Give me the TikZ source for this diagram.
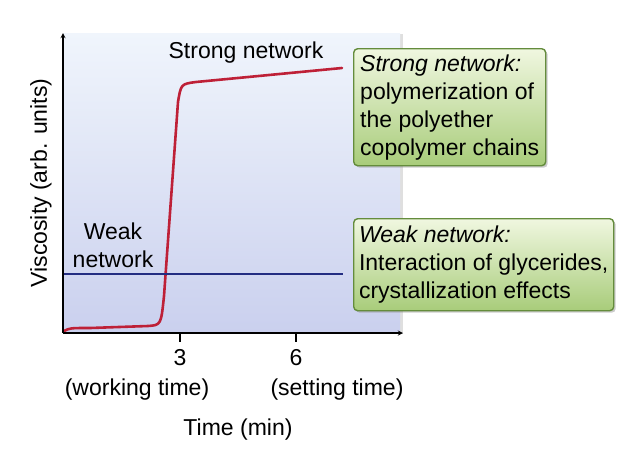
\documentclass[tikz,border=0pt]{standalone}
\usepackage{fontspec}
\setmainfont{Liberation Sans}
\usetikzlibrary{shadows, arrows}
\definecolor{plottop}{RGB}{240,245,252}
\definecolor{plotbottom}{RGB}{202,208,238}
\definecolor{curvered}{RGB}{190,32,55}
\definecolor{lineblue}{RGB}{35,45,130}
\definecolor{boxtop}{RGB}{240,247,224}
\definecolor{boxbottom}{RGB}{168,204,122}
\definecolor{boxedge}{RGB}{100,140,60}
\tikzstyle{plotbg} =
[
	draw=none
	, top color=plottop
	, bottom color=plotbottom
	, drop shadow={shadow xshift=3pt, shadow yshift=-1pt, opacity=0.25}
]
\tikzstyle{notebox} =
[
	rectangle
	, rounded corners=4pt
	, draw=boxedge
	, line width=1.4pt
	, top color=boxtop
	, bottom color=boxbottom
	, drop shadow={shadow xshift=2pt, shadow yshift=-2pt, opacity=0.4}
	, align=left
	, inner sep=5pt
	, anchor=north west
]
\tikzstyle{label1} = [inner sep=0pt]
\tikzstyle{axis} = [line width=1.3pt,->,>=stealth]
\tikzstyle{curve} = [line width=2.6pt, curvered, line cap=round, line join=round]

\begin{document}
\begin{tikzpicture}[x=1pt, y=-1pt, font=\fontsize{23}{28}\selectfont]
\useasboundingbox (0,0) rectangle (642,456);

\fill[plotbg] (63,33) rectangle (400,333);

\coordinate (origin) at (63,333);
\coordinate (ytop) at (63,33);
\coordinate (xend) at (403,333);
\coordinate (weakstart) at (63,274);
\coordinate (weakend) at (343,274);

% curves
\draw[curve] (64,331) .. controls (70,328) .. (90,328) -- (148,326)
  .. controls (161,325) .. (164,296) -- (178,102)
  .. controls (181,84) .. (196,82) -- (342,68);
\draw[lineblue, line width=2.1pt](weakstart)--(weakend);

\draw[axis](origin)--(ytop);
\draw[axis](origin)--(xend);
\draw[line width=1.2pt] (180,333) -- (180,342);
\draw[line width=1.2pt] (296,333) -- (296,342);

\node(tick3)[label1] at (180,358){3};
\node(tick6)[label1] at (296,358){6};
\node(working)[label1] at (137,390){(working time)};
\node(setting)[label1] at (337,390){(setting time)};
\node(xlabel)[label1] at (238,430){Time (min)};
\node(ylabel)[label1, rotate=90] at (41,183){Viscosity (arb. units)};

\node(strong)[label1] at (246,53){Strong network};
\node(weak)[label1, align=center] at (113,245){Weak\\network};

\node(strongbox)[notebox, minimum width=192pt, minimum height=117pt] at (353,48)
  {\textit{Strong network:}\\polymerization of\\the polyether\\copolymer chains};
\node(weakbox)[notebox, minimum width=260pt, minimum height=92pt] at (353,218)
  {\textit{Weak network:}\\Interaction of glycerides,\\crystallization effects};

\end{tikzpicture}
\end{document}
